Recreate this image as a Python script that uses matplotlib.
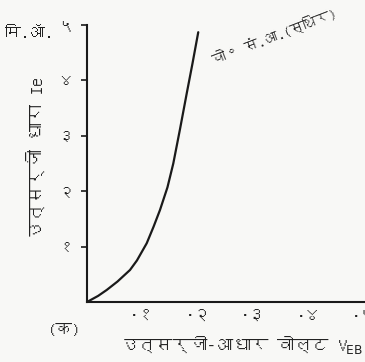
import matplotlib
matplotlib.use("Agg")
import matplotlib.pyplot as plt
from matplotlib import font_manager
from matplotlib.ft2font import FT2Font

# Devanagari wala font dhoondo (agar koi installed ho)
deva = None
for f in font_manager.fontManager.ttflist:
    try:
        if 0x0927 in FT2Font(f.fname).get_charmap():
            deva = f.name
            break
    except Exception:
        pass
fams = [deva, "DejaVu Sans"] if deva else ["DejaVu Sans"]
plt.rcParams["font.family"] = fams

# curve: V_EB (volt) vs I_e (mA), chitra se padha gaya
veb = [0.0, 0.02, 0.0355, 0.055, 0.0775, 0.09, 0.1076, 0.12, 0.1315, 0.145, 0.1555, 0.1676, 0.18, 0.19, 0.2005]
ie = [0.0, 0.11, 0.217, 0.37, 0.578, 0.75, 1.06, 1.36, 1.66, 2.07, 2.50, 3.12, 3.78, 4.30, 4.87]

xticks = [0.1, 0.2, 0.3, 0.4, 0.5]
xlabels = ["·१", "·२", "·३", "·४", "·५"]
yticks = [1, 2, 3, 4, 5]
ylabels = ["१", "२", "३", "४", "५"]

fig = plt.figure(figsize=(3.65, 3.62), dpi=100)
fig.patch.set_facecolor("#f8f8f6")
ax = fig.add_axes([87 / 365, 60 / 362, 278 / 365, 277 / 362])
ax.set_facecolor("#f8f8f6")

ax.plot(veb, ie, color="#1a1a1a", lw=1.6, solid_capstyle="round")

ax.set_xlim(0, 0.501)
ax.set_ylim(0, 5.0)
for s in ["top", "right"]:
    ax.spines[s].set_visible(False)
for s in ["left", "bottom"]:
    ax.spines[s].set_linewidth(1.5)
    ax.spines[s].set_color("#1a1a1a")

ax.set_xticks(xticks)
ax.set_xticklabels(xlabels, fontsize=12, color="#222222")
ax.set_yticks(yticks)
ax.set_yticklabels(ylabels, fontsize=11, color="#222222")
ax.tick_params(axis="x", length=0, pad=6)
ax.tick_params(axis="y", length=4, width=1.2, pad=6, color="#1a1a1a")

ax.set_ylabel("उत्सर्जी धारा Ie", fontsize=13, color="#222222")
ax.yaxis.set_label_coords(-0.15, 0.52)

fig.text(5 / 365, 329 / 362, "मि.ऑ.", fontsize=11.5, color="#222222", va="center")
fig.text(48 / 365, 32 / 362, "(क)", fontsize=12, color="#222222", va="center")
fig.text(242 / 365, 17 / 362, "उत्सर्जी-आधार वोल्ट V$_{\\mathrm{EB}}$", fontsize=12.5,
         color="#222222", ha="center", va="center")
ax.text(0.226, 4.38, "वो॰ सं.आ.(स्थिर)", fontsize=10, color="#222222",
        rotation=21, rotation_mode="anchor", ha="left", va="center")

fig.savefig("out.png", dpi=100, facecolor=fig.get_facecolor())
